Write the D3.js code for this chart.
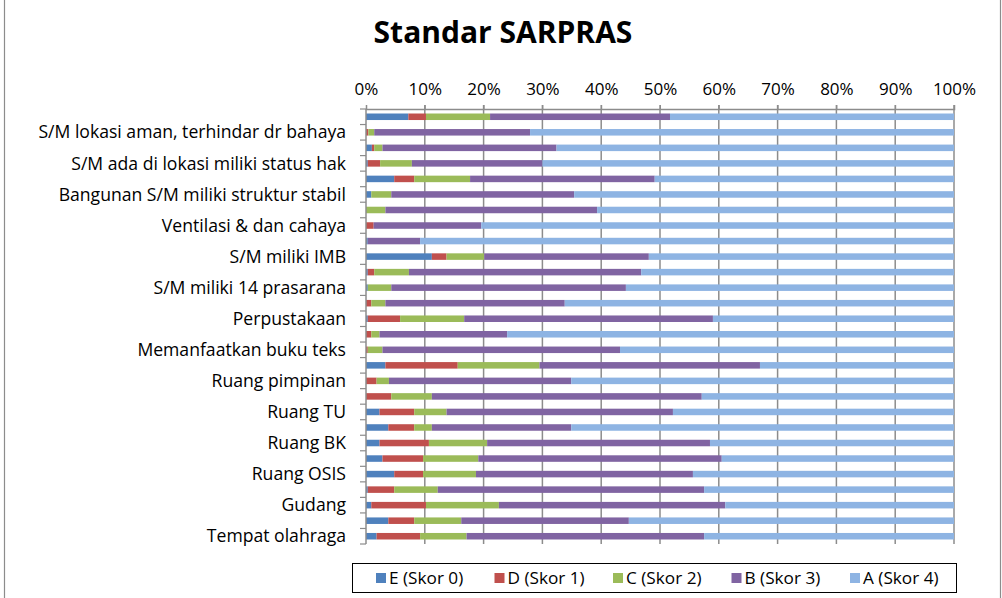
<!DOCTYPE html>
<html>
<head>
<meta charset="utf-8">
<script src="https://cdn.jsdelivr.net/npm/d3@7"></script>
<style>
  body { margin: 0; background: #fff; }
  svg { display: block; }
</style>
</head>
<body>
<div id="chart"></div>
<script>
// --- Data (percent per category, top to bottom) ---
const labels = [
  "S/M lokasi aman, terhindar dr bahaya",
  "S/M ada di lokasi miliki status hak",
  "Bangunan S/M miliki struktur stabil",
  "Ventilasi & dan cahaya",
  "S/M miliki IMB",
  "S/M miliki 14 prasarana",
  "Perpustakaan",
  "Memanfaatkan buku teks",
  "Ruang pimpinan",
  "Ruang TU",
  "Ruang BK",
  "Ruang OSIS",
  "Gudang",
  "Tempat olahraga"
];
const seriesNames = ["E (Skor 0)", "D (Skor 1)", "C (Skor 2)", "B (Skor 3)", "A (Skor 4)"];
const skorE = [7.2, 0, 1.0, 0.3, 4.8, 0.9, 0, 0, 0.3, 11.2, 0.3, 0.3, 0, 0.3,
               0, 0, 3.3, 0, 0, 2.3, 3.8, 2.3, 2.8, 4.8, 0.3, 0.9, 3.8, 1.8];
const skorD = [3.0, 0.4, 0.4, 2.1, 3.4, 0, 0, 1.3, 0, 2.5, 1.1, 0, 0.9, 5.5,
               0.9, 0.3, 12.3, 1.8, 4.3, 5.9, 4.4, 8.4, 6.9, 4.9, 4.5, 9.3, 4.4, 7.4];
const skorC = [10.9, 1.0, 1.4, 5.4, 9.5, 3.4, 3.3, 0, 0, 6.4, 5.9, 4.0, 2.4, 10.9,
               1.4, 2.5, 13.9, 2.1, 6.9, 5.5, 3.0, 9.9, 9.4, 9.0, 7.4, 12.4, 8.0, 7.9];
const skorB = [30.6, 26.5, 29.6, 22.2, 31.4, 31.1, 36.0, 18.3, 8.9, 28.0, 39.5, 39.9, 30.5, 42.3,
               21.7, 40.4, 37.5, 31.0, 45.9, 38.5, 23.7, 37.9, 41.4, 36.9, 45.3, 38.5, 28.5, 40.4];
const skorA = [48.3, 72.1, 67.6, 70.0, 50.9, 64.6, 60.7, 80.4, 90.8, 51.9, 53.2, 55.8, 66.2, 41.0,
               76.0, 56.8, 33.0, 65.1, 42.9, 47.8, 65.1, 41.5, 39.5, 44.4, 42.5, 38.9, 55.3, 42.5];
const xTicks = [0, 0.1, 0.2, 0.3, 0.4, 0.5, 0.6, 0.7, 0.8, 0.9, 1.0];

const colors = ["#4F81BD", "#C0504D", "#9BBB59", "#8064A2", "#8EB4E3"];

// --- Build table of rows ---
const keys = ["E", "D", "C", "B", "A"];
const rows = skorE.map((e, i) => {
  const vals = [e, skorD[i], skorC[i], skorB[i], skorA[i]];
  const tot = d3.sum(vals);
  const r = { idx: i };
  keys.forEach((k, j) => r[k] = vals[j] / tot);
  return r;
});

const W = 1002, H = 598;
const svg = d3.select("#chart").append("svg")
  .attr("width", W).attr("height", H)
  .style("font-family", "'Open Sans', sans-serif");

// chart frame
svg.append("line").attr("x1", 4.5).attr("x2", 4.5).attr("y1", 0).attr("y2", H)
  .attr("stroke", "#8c8c8c").attr("stroke-width", 1.2);
svg.append("line").attr("x1", 1000.5).attr("x2", 1000.5).attr("y1", 0).attr("y2", H)
  .attr("stroke", "#8c8c8c").attr("stroke-width", 1.2);

// --- Title ---
svg.append("text")
  .attr("x", 503).attr("y", 43)
  .attr("text-anchor", "middle")
  .style("font-size", "30px").style("font-weight", "bold")
  .text("Standar SARPRAS");

// --- Scales ---
const plotL = 366, plotR = 954, plotT = 109, plotB = 544;
const x = d3.scaleLinear().domain([0, 1]).range([plotL, plotR]);
const y = d3.scaleBand().domain(d3.range(rows.length)).range([plotT, plotB])
  .paddingInner(0.58).paddingOuter(0.29);
const step = y.step();

// --- Gridlines ---
svg.append("g").selectAll("line").data(xTicks.slice(1)).join("line")
  .attr("x1", d => x(d)).attr("x2", d => x(d))
  .attr("y1", plotT - 4).attr("y2", plotB)
  .attr("stroke", "#8c8c8c").attr("stroke-width", 1.5);

// --- Top axis ---
const xAxis = d3.axisTop(x).tickValues(xTicks).tickFormat(d3.format(".0%"))
  .tickSize(4).tickPadding(10);
const gx = svg.append("g").attr("transform", `translate(0,${plotT})`).call(xAxis);
gx.select(".domain").attr("stroke", "#8c8c8c").attr("stroke-width", 1.5);
gx.selectAll(".tick line").attr("stroke", "#8c8c8c");
gx.selectAll(".tick text").style("font-size", "17px").attr("fill", "#000")
  .style("font-family", "'Open Sans', sans-serif");

// --- Stacked bars ---
const stack = d3.stack().keys(keys);
const layers = stack(rows);
svg.append("g").selectAll("g").data(layers).join("g")
  .attr("fill", (d, i) => colors[i])
  .selectAll("rect").data(d => d).join("rect")
  .attr("x", d => x(d[0]))
  .attr("width", d => Math.max(0, x(d[1]) - x(d[0])))
  .attr("y", d => y(d.data.idx))
  .attr("height", y.bandwidth());

// --- Left category axis ---
const ga = svg.append("g");
ga.append("line").attr("x1", plotL).attr("x2", plotL).attr("y1", plotT).attr("y2", plotB)
  .attr("stroke", "#8c8c8c").attr("stroke-width", 1.5);
ga.selectAll("line.tk").data(d3.range(rows.length + 1)).join("line")
  .attr("class", "tk")
  .attr("x1", plotL - 6).attr("x2", plotL)
  .attr("y1", d => plotT + d * step).attr("y2", d => plotT + d * step)
  .attr("stroke", "#8c8c8c").attr("stroke-width", 1.2);
ga.selectAll("text").data(labels).join("text")
  .attr("x", plotL - 20)
  .attr("y", (d, i) => y(2 * i + 1) + y.bandwidth() / 2)
  .attr("dy", "0.35em")
  .attr("text-anchor", "end")
  .style("font-size", "17.6px")
  .text(d => d);

// --- Legend ---
svg.append("rect").attr("x", 352.5).attr("y", 563.5).attr("width", 604).attr("height", 29)
  .attr("fill", "none").attr("stroke", "#000").attr("stroke-width", 1);
const lg = svg.append("g").selectAll("g").data(seriesNames).join("g")
  .attr("transform", (d, i) => `translate(${376 + i * 118.5},578)`);
lg.append("rect").attr("x", 0).attr("y", -5).attr("width", 10).attr("height", 10)
  .attr("fill", (d, i) => colors[i]);
lg.append("text").attr("x", 13).attr("dy", "0.35em")
  .style("font-size", "17.2px").text(d => d);
</script>
</body>
</html>
